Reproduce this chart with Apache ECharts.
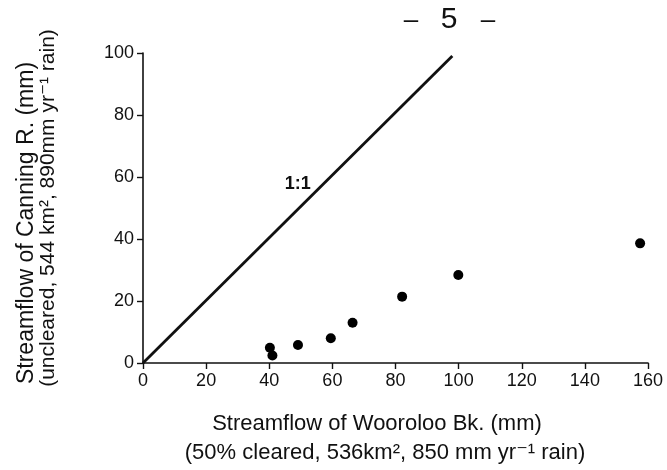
<!DOCTYPE html>
<html>
<head>
<meta charset="utf-8">
<script src="https://cdn.jsdelivr.net/npm/echarts@6/dist/echarts.min.js"></script>
<style>
html,body{margin:0;padding:0;background:#fff;}
#chart{width:667px;height:470px;}
</style>
</head>
<body>
<div id="chart"></div>
<script>
// Data
const woorolooFlow = [40.2, 41.0, 49.1, 59.5, 66.4, 82.1, 99.9, 157.5];   // x (mm)
const canningFlow  = [4.9, 2.4, 5.8, 8.0, 13.0, 21.4, 28.4, 38.6];        // y (mm)
const oneToOneX = [0, 98];
const oneToOneY = [0, 99];
const xTicks = [0, 20, 40, 60, 80, 100, 120, 140, 160];
const yTicks = [0, 20, 40, 60, 80, 100];

const FONT = '"Liberation Sans", "DejaVu Sans", sans-serif';
const INK = '#111';

const chart = echarts.init(document.getElementById('chart'), null, {renderer: 'canvas'});

const points = woorolooFlow.map((x, i) => [x, canningFlow[i]]);
const line = oneToOneX.map((x, i) => [x, oneToOneY[i]]);

const axisCommon = {
  type: 'value',
  axisLine: {show: true, onZero: false, lineStyle: {color: INK, width: 1.6}},
  axisTick: {show: true, inside: false, length: 6, lineStyle: {color: INK, width: 1.4}},
  splitLine: {show: false},
  axisLabel: {color: INK, fontSize: 18, fontFamily: FONT, margin: 9}
};

chart.setOption({
  backgroundColor: '#fff',
  animation: false,
  grid: {left: 143, right: 19, top: 53, bottom: 107, containLabel: false},
  xAxis: Object.assign({}, axisCommon, {
    min: xTicks[0], max: xTicks[xTicks.length - 1], interval: xTicks[1] - xTicks[0]
  }),
  yAxis: Object.assign({}, axisCommon, {
    min: yTicks[0], max: yTicks[yTicks.length - 1], interval: yTicks[1] - yTicks[0]
  }),
  series: [
    {
      type: 'line',
      data: line,
      symbol: 'none',
      lineStyle: {color: INK, width: 2.8},
      z: 2
    },
    {
      type: 'scatter',
      data: points,
      symbol: 'circle',
      symbolSize: 10,
      itemStyle: {color: '#000', opacity: 1},
      z: 3
    }
  ]
});

const labelPos = chart.convertToPixel({gridIndex: 0}, [49, 57.6]);

chart.setOption({
  graphic: [
    {type: 'text', x: labelPos[0], y: labelPos[1],
      style: {text: '1:1', font: 'bold 18px ' + FONT, fill: INK, align: 'center', verticalAlign: 'middle'}},
    {type: 'text', x: 411, y: 21,
      style: {text: '–', font: '26px ' + FONT, fill: INK, align: 'center', verticalAlign: 'middle'}},
    {type: 'text', x: 449, y: 20,
      style: {text: '5', font: '30px ' + FONT, fill: INK, align: 'center', verticalAlign: 'middle'}},
    {type: 'text', x: 488, y: 21,
      style: {text: '–', font: '26px ' + FONT, fill: INK, align: 'center', verticalAlign: 'middle'}},
    {type: 'text', x: 377, y: 424,
      style: {text: 'Streamflow of Wooroloo Bk. (mm)', font: '22px ' + FONT, fill: INK, align: 'center', verticalAlign: 'middle'}},
    {type: 'text', x: 385, y: 453,
      style: {text: '(50% cleared, 536km², 850 mm yr⁻¹ rain)', font: '22px ' + FONT, fill: INK, align: 'center', verticalAlign: 'middle'}},
    {type: 'text', x: 27, y: 223, rotation: Math.PI / 2,
      style: {text: 'Streamflow of Canning R. (mm)', font: '23px ' + FONT, fill: INK, align: 'center', verticalAlign: 'middle'}},
    {type: 'text', x: 48, y: 208, rotation: Math.PI / 2,
      style: {text: '(uncleared, 544 km², 890mm yr⁻¹ rain)', font: '21px ' + FONT, fill: INK, align: 'center', verticalAlign: 'middle'}}
  ]
});
</script>
</body>
</html>
